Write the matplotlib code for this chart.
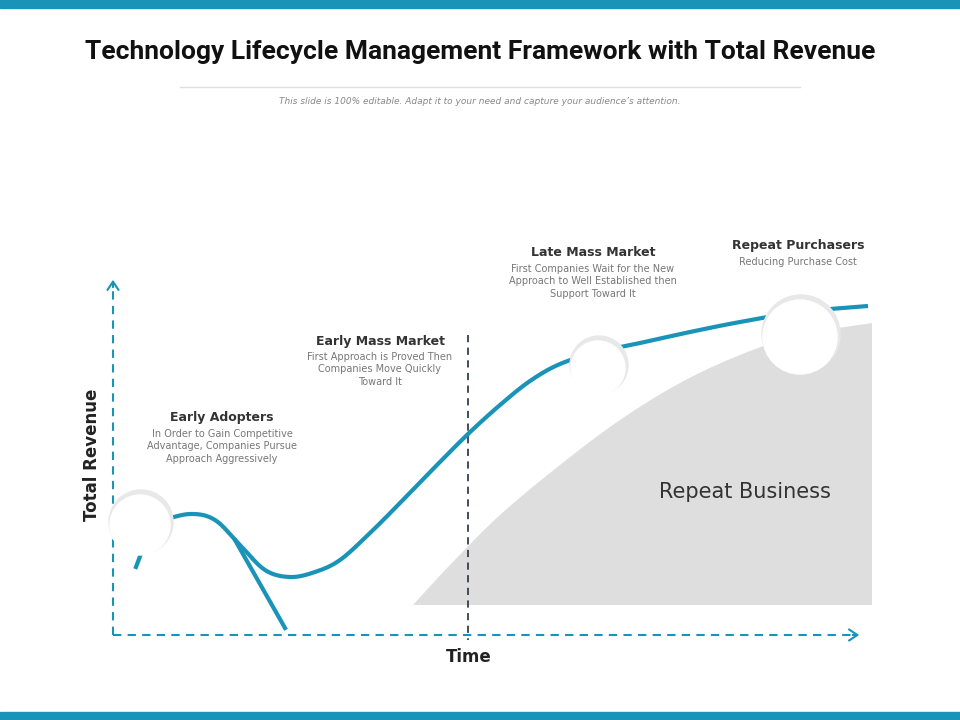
import numpy as np
import matplotlib
matplotlib.use("Agg")
import matplotlib.pyplot as plt
from matplotlib.patches import Circle, FancyArrowPatch, Polygon

TEAL = "#1a93b8"
title = "Technology Lifecycle Management Framework with Total Revenue"
subtitle = "This slide is 100% editable. Adapt it to your need and capture your audience\u2019s attention."
stages = ["Early Adopters", "Early Mass Market", "Late Mass Market", "Repeat Purchasers"]
descs = ["In Order to Gain Competitive\nAdvantage, Companies Pursue\nApproach Aggressively",
         "First Approach is Proved Then\nCompanies Move Quickly\nToward It",
         "First Companies Wait for the New\nApproach to Well Established then\nSupport Toward It",
         "Reducing Purchase Cost"]
stage_x = [222, 380, 593, 798]
stage_y = [418, 341, 253, 246]
curve_x = [160, 190, 215, 240, 265, 290, 315, 340, 370, 400, 435, 468, 500, 530, 560, 598, 640, 690, 740, 800, 868]
curve_y = [521, 514, 520, 545, 570, 577, 572, 560, 533, 503, 467, 434, 405, 381, 364, 352, 343, 332, 322, 312, 306]
area_x = [413, 450, 500, 560, 620, 680, 740, 800, 872]
area_y = [605, 565, 515, 465, 420, 383, 355, 335, 323]

def catmull(xs, ys, n=20):
    P = np.column_stack([xs, ys]).astype(float)
    P = np.vstack([P[0], P, P[-1]])
    out = []
    for i in range(1, len(P) - 2):
        p0, p1, p2, p3 = P[i-1], P[i], P[i+1], P[i+2]
        for t in np.linspace(0, 1, n, endpoint=False):
            out.append(0.5*((2*p1) + (-p0+p2)*t + (2*p0-5*p1+4*p2-p3)*t**2 + (-p0+3*p1-3*p2+p3)*t**3))
    out.append(P[-2])
    return np.array(out)

fig = plt.figure(figsize=(9.6, 7.2), dpi=100)
ax = fig.add_axes([0, 0, 1, 1])
ax.set_xlim(0, 960); ax.set_ylim(720, 0); ax.axis("off")

ax.add_patch(plt.Rectangle((0, 0), 960, 8, color=TEAL))
ax.add_patch(plt.Rectangle((0, 712), 960, 8, color=TEAL))
ax.text(480, 52, title, ha="center", va="center", fontsize=19, fontweight="bold", family="Roboto", color="#111111")
ax.plot([180, 800], [87, 87], color="#e0e0e0", lw=1)
ax.text(480, 102, subtitle, ha="center", va="center", fontsize=6.5, style="italic", color="#888888")

# area
a = catmull(area_x, area_y)
poly = np.vstack([a, [[872, 605], [413, 605]]])
ax.add_patch(Polygon(poly, closed=True, color="#dedede", lw=0))
ax.text(745, 492, "Repeat Business", ha="center", va="center", fontsize=15, color="#333333")

# axes
ax.plot([113, 113], [635, 285], ls=(0, (4, 3)), color=TEAL, lw=1.5)
ax.plot([113, 852], [635, 635], ls=(0, (4, 3)), color=TEAL, lw=1.5)
ax.add_patch(FancyArrowPatch((113, 290), (113, 277), arrowstyle="->,head_width=4,head_length=6", color=TEAL, lw=1.5))
ax.add_patch(FancyArrowPatch((850, 635), (862, 635), arrowstyle="->,head_width=4,head_length=6", color=TEAL, lw=1.5))
ax.text(92, 455, "Total Revenue", rotation=90, ha="center", va="center", fontsize=12, fontweight="bold", color="#222222")
ax.text(469, 657, "Time", ha="center", va="center", fontsize=12, fontweight="bold", color="#222222")
ax.plot([468, 468], [335, 640], ls=(0, (4, 3)), color="#333f50", lw=1.3)

# curve
c = catmull(curve_x, curve_y)
ax.plot(c[:, 0], c[:, 1], color=TEAL, lw=3, solid_capstyle="butt")
ax.plot([235, 285], [540, 628], color=TEAL, lw=3)
ax.plot([136, 142], [567, 551], color=TEAL, lw=3)

for (cx, cy, r) in [(140, 525, 30), (598, 368, 27), (800, 337, 37)]:
    ax.add_patch(Circle((cx + 1, cy - 3), r + 2, color="#e8e8e8", zorder=4))
    ax.add_patch(Circle((cx, cy), r, color="white", zorder=5))

for x, y, s, d in zip(stage_x, stage_y, stages, descs):
    ax.text(x, y, s, ha="center", va="center", fontsize=9, fontweight="bold", color="#333333")
    ax.text(x, y + 11, d, ha="center", va="top", fontsize=7, color="#777777", linespacing=1.3)

fig.savefig("out.png", dpi=100)
